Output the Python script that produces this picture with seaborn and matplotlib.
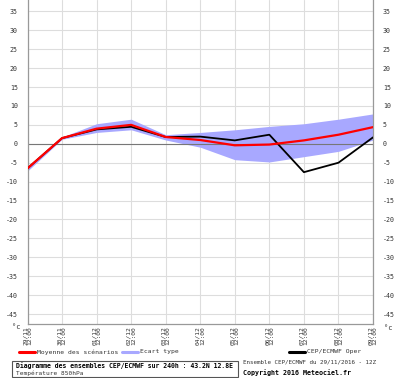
import matplotlib
matplotlib.use("Agg")
import matplotlib.pyplot as plt
import seaborn as sns
import pandas as pd
import numpy as np
from matplotlib.lines import Line2D
from matplotlib.patches import Rectangle

dates = ["29/11", "30/11", "01/12", "02/12", "03/12", "04/12",
         "05/12", "06/12", "07/12", "08/12", "09/12"]
mean_vals = [-6.5, 1.5, 4.0, 5.0, 1.8, 1.0, -0.4, -0.2, 0.9, 2.4, 4.4]
oper_vals = [-6.5, 1.5, 3.8, 4.5, 1.8, 1.9, 0.9, 2.4, -7.5, -5.0, 1.7]
upper_vals = [-6.0, 1.8, 5.3, 6.5, 2.4, 3.0, 3.7, 4.6, 5.3, 6.5, 7.9]
lower_vals = [-7.2, 1.2, 3.0, 3.7, 1.0, -0.9, -4.2, -4.8, -3.4, -2.0, 1.0]
yticks = list(range(-45, 40, 5))

sns.set_theme(style="white")
plt.rcParams['font.family'] = ['DejaVu Sans Mono', 'DejaVu Sans']

df = pd.DataFrame({"x": np.arange(len(dates)), "mean": mean_vals,
                   "oper": oper_vals, "lo": lower_vals, "hi": upper_vals})

fig = plt.figure(figsize=(4.0, 3.78), dpi=100)
ax = fig.add_axes([27.5/400, 1-324.3/378, 345.5/400, 324.3/378])

ax.fill_between(df["x"], df["lo"], df["hi"], color="#a8a8ff", lw=0, zorder=2)
ax.axhline(0, color="#777777", lw=0.8, zorder=2.5)
sns.lineplot(data=df, x="x", y="oper", ax=ax, color="black", lw=1.3, zorder=3)
sns.lineplot(data=df, x="x", y="mean", ax=ax, color="#ff0000", lw=1.6, zorder=4)

ax.set_xlim(0, len(dates)-1)
ax.set_ylim(-47.7, 38)
ax.set_xticks(df["x"])
ax.set_xticklabels([d + "\n12:00" for d in dates], rotation=90, fontsize=4.5,
                   va="top", ha="center", linespacing=0.85)
ax.set_yticks(yticks)
ax.set_yticklabels([str(v) for v in yticks], fontsize=4.8)
ax.tick_params(axis="both", which="both", length=0, width=0)
ax.tick_params(axis="y", labelright=True, pad=7, labelcolor="#333333")
ax.tick_params(axis="x", pad=1.5, labelcolor="#333333")
ax.grid(True, color="#dddddd", lw=0.8, zorder=0)
ax.set_axisbelow(True)
ax.set_xlabel("")
ax.set_ylabel("")
for s in ["left", "right", "bottom"]:
    ax.spines[s].set_color("#999999")
    ax.spines[s].set_linewidth(0.9)
ax.spines["top"].set_visible(False)

fig.text(12/400, 1-327/378, "°c", fontsize=5, ha="left", va="center", color="#333333")
fig.text(384/400, 1-328/378, "°c", fontsize=5, ha="left", va="center", color="#333333")

# legend
y_leg = 1-352/378
for x0, col, lab in [(19, "#ff0000", "Moyenne des scénarios"),
                     (122, "#a8a8ff", "Ecart type"),
                     (289, "black", "CEP/ECMWF Oper")]:
    fig.add_artist(Line2D([x0/400, (x0+16)/400], [y_leg, y_leg], color=col, lw=2.2,
                          transform=fig.transFigure))
    fig.text((x0+18)/400, y_leg, lab, fontsize=4.6, ha="left", va="center", color="#333333")

fig.add_artist(Rectangle((12/400, 1-377/378), 226/400, 16/378, transform=fig.transFigure,
                         fill=False, edgecolor="#555555", lw=0.8))
fig.text(16/400, 1-365.5/378, "Diagramme des ensembles CEP/ECMWF sur 240h : 43.2N 12.8E",
         fontsize=4.7, weight="bold", ha="left", va="center", color="black")
fig.text(16/400, 1-373.5/378, "Température 850hPa", fontsize=4.4, ha="left", va="center",
         color="#333333")
fig.text(243/400, 1-362/378, "Ensemble CEP/ECMWF du 29/11/2016 - 12Z", fontsize=4.2,
         ha="left", va="center", color="#333333")
fig.text(243/400, 1-373/378, "Copyright 2016 Meteociel.fr", fontsize=4.8, weight="bold",
         ha="left", va="center", color="black")

fig.savefig("out.png", dpi=100)
